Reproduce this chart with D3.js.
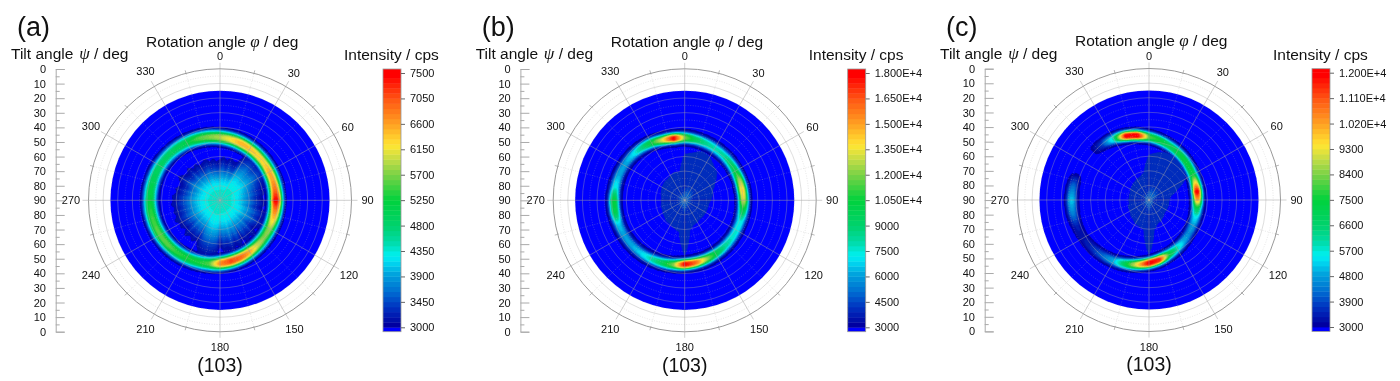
<!DOCTYPE html>
<html>
<head>
<meta charset="utf-8">
<script src="https://cdn.jsdelivr.net/npm/d3@7"></script>
<style>
html, body { margin: 0; padding: 0; background: #fff; }
svg { display: block; filter: blur(0.4px); }
text { font-family: "Liberation Sans", Arial, sans-serif; fill: #111; }
</style>
</head>
<body>
<div id="chart"></div>
<script>
var width = 1400;
var height = 381;

var panelNames = ["(a)", "(b)", "(c)"];
var panelX = [0, 464.7, 929];
var panelY = [0, 0, -0.3];

// color bar ranges
var maxA = 7500, maxB = 18000, maxC = 12000;
var minCps = 3000;
var floorCps = 2900; // below the scale, plain blue

var ticksA = [3000, 3450, 3900, 4350, 4800, 5250, 5700, 6150, 6600, 7050, 7500];
var ticksB = [3000, 4500, 6000, 7500, 9000, 10500, 12000, 13500, 15000, 16500, 18000];
var ticksC = [3000, 3900, 4800, 5700, 6600, 7500, 8400, 9300, 10200, 11100, 12000];
var labelsA = ["3000", "3450", "3900", "4350", "4800", "5250", "5700", "6150", "6600", "7050", "7500"];
var labelsB = ["3000", "4500", "6000", "7500", "9000", "1.050E+4", "1.200E+4", "1.350E+4", "1.500E+4", "1.650E+4", "1.800E+4"];
var labelsC = ["3000", "3900", "4800", "5700", "6600", "7500", "8400", "9300", "1.020E+4", "1.110E+4", "1.200E+4"];

// ring: tilt of the ridge and its intensity, every 10 deg of rotation from 0
var ridgeTiltA = [46.9, 47.7, 48.5, 49.3, 50, 50.6, 51.1, 51.4, 51.6, 51.7, 51.6, 51.4, 51.1, 50.6, 50, 49.3, 48.5, 47.7, 46.9, 46.1, 45.3, 44.5, 43.8, 43.2, 42.7, 42.4, 42.2, 42.1, 42.2, 42.4, 42.7, 43.2, 43.8, 44.5, 45.3, 46.1];
var ridgeTiltB = [47.2, 47.8, 48.4, 49, 49.4, 49.7, 50, 50, 50, 49.8, 49.6, 49.4, 49.1, 48.7, 48.2, 47.7, 47.2, 46.7, 46.2, 45.4, 44.6, 43.8, 43.1, 42.6, 42.2, 41.9, 41.7, 41.6, 41.7, 41.9, 42.3, 42.8, 43.6, 44.7, 46.2, 47];
var ridgeTiltC = [46.9, 48.6, 50.3, 51.8, 53.2, 54.5, 55.5, 56.2, 56.7, 56.8, 56.7, 56.2, 55.5, 54.5, 53.2, 51.8, 50.3, 48.6, 46.9, 45.2, 43.5, 41.9, 40.5, 39.3, 38.3, 37.6, 37.1, 37, 37.1, 37.6, 38.3, 39.3, 40.5, 41.9, 43.5, 45.2];

var ridgeCpsA = [5900, 6200, 6500, 6400, 6300, 6300, 6500, 6600, 6900, 7500, 6800, 6300, 5800, 5700, 6000, 6500, 6900, 7100, 6700, 5500, 5300, 5300, 5400, 5600, 5600, 5500, 5400, 5200, 5100, 5000, 4900, 4900, 5000, 5100, 5500, 5700];
var ridgeCpsB = [12000, 9500, 8500, 8000, 8200, 9000, 10000, 12500, 14000, 13000, 10000, 7500, 7500, 7800, 8500, 10000, 12500, 16000, 18000, 12000, 9500, 8000, 6800, 6200, 6000, 6700, 10000, 10500, 7500, 6300, 6000, 6800, 8500, 10500, 13500, 18000];
var ridgeCpsC = [8000, 7500, 7000, 7200, 7500, 7500, 7500, 9500, 12000, 10000, 7000, 5500, 4800, 4600, 5000, 6000, 7500, 11500, 12000, 9500, 7200, 5000, 4200, 3600, 3300, 3400, 4500, 5200, 4300, 2950, 2900, 2950, 3800, 6000, 12000, 12000];

// tilt where the central patch ends. (a) is read every 5 deg of rotation, (b) and (c) every 10
var patchTiltA = [62, 60, 62.7, 60, 62, 61.4, 54, 52, 50, 52, 52, 50, 52, 56, 57.3, 60, 58.6, 61.4, 60, 58.6, 61.4, 58.6, 55.9, 58.6, 54.5, 57.3, 60, 55.9, 58.6, 55.9, 60, 54.5, 57.3, 53.1, 55.9, 54.5, 58.6, 51.8, 50, 49.7, 50.4, 53.1, 58.6, 55.9, 58.6, 55.9, 60, 57.3, 58.6, 55.9, 58.6, 57.3, 58.6, 56.6, 57.9, 57.3, 60, 58.6, 61.4, 60, 57.3, 60, 61.4, 58.6, 62, 60, 62.7, 61.4, 60, 62.7, 61.4, 63.4];
var patchTiltB = [58.5, 57.1, 54.4, 55.8, 59.2, 61.3, 66, 69.5, 70.8, 72.2, 73.6, 73.6, 73.6, 73.6, 73.6, 72.9, 72.2, 69.5, 52.4, 68.1, 69.5, 70.8, 70.8, 72.2, 72.9, 73.6, 73.6, 74.2, 73.6, 72.9, 72.2, 71.5, 71.5, 70.8, 69.5, 70.8];
var patchTiltC = [59.2, 57.1, 55.8, 55.8, 57.1, 58.5, 61.3, 69.5, 74.9, 76.3, 76.3, 76.3, 76.3, 76.3, 74.9, 73.6, 72.9, 69.5, 52.4, 69.5, 70.8, 71.5, 72.9, 73.6, 74.9, 74.9, 76.3, 76.3, 76.3, 76.3, 75.6, 74.9, 74.2, 73.6, 72.9, 70.8];

// widths and the patch levels
var ridgeWidths = [3, 2.3, 2.3];
var patchEdge = [2950, 4000, 3600];
var patchPeak = [4400, 5000, 4200];
var patchCore = [0.75, 0.22, 0.22];

var tiltTicks = d3.range(0, 181, 10);
var tiltMinorTicks = d3.range(5, 180, 10);
var ringTilts = [10, 20, 30, 40, 50, 60, 70, 80];
var ringTiltsDotted = [5, 15, 25, 35, 45, 55, 65, 75, 85];
var rotationLabels = [0, 30, 60, 90, 120, 150, 180, 210, 240, 270, 300, 330];
var rotationMinor = [15, 45, 75, 105, 135, 165, 195, 225, 255, 285, 315, 345];

var rampStops = [0, 0.07, 0.134, 0.2, 0.25, 0.278, 0.33, 0.395, 0.5, 0.6, 0.66, 0.72, 0.82, 0.9, 1];
var rampColors = ["#0000a0", "#0032c0", "#006ed2", "#00a0dc", "#00d7f0", "#00f0f0", "#00dcaa", "#00d26e", "#00d23c", "#78d246", "#bedc46", "#ffe632", "#ff9620", "#ff5a14", "#ff0000"];
var bandCount = 50;

var cx = 220, cy = 200.3;
var outerR = 131.5;
var rScale = d3.scaleLinear().domain([90, 0]).range([0, outerR]);
var angle = d3.scaleLinear().domain([0, 360]).range([0, 2 * Math.PI]);
var ramp = d3.scaleLinear().domain(rampStops).range(rampColors);
var tiltAxisScale = d3.scaleLinear().domain([0, 180]).range([69, 331.7]);

function lookup(arr, phi) {
    var p = (phi % 360) / 360 * arr.length;
    var i = Math.floor(p) % arr.length;
    var j = (i + 1) % arr.length;
    return arr[i] + (arr[j] - arr[i]) * (p - Math.floor(p));
}

function drawField(g, n, ridgeTilt, ridgeCps, patchTilt, maxCps) {
    var band = d3.scaleQuantize().domain([minCps, maxCps]).range(d3.range(bandCount));
    var paths = d3.range(bandCount).map(function () { return d3.path(); });
    var arc = d3.arc();
    var phiStep = 1, tiltStep = 0.4;

    d3.range(0, 360, phiStep).forEach(function (phi) {
        var mid = phi + phiStep / 2;
        var rt = lookup(ridgeTilt, mid);
        var rc = lookup(ridgeCps, mid);
        var edge = 90 - lookup(patchTilt, mid);
        d3.range(15, 90, tiltStep).forEach(function (tilt) {
            var t = tilt + tiltStep / 2;
            var d = (t - rt) / ridgeWidths[n];
            var v = floorCps + (rc - floorCps) * Math.exp(-Math.pow(d * d / 2, 1.25));
            var fromCentre = 90 - t;
            if (fromCentre < edge) {
                var q = fromCentre / (edge * patchCore[n]);
                v = Math.max(v, patchEdge[n] + (patchPeak[n] - patchEdge[n]) * Math.exp(-q * q * q));
            }
            if (v < minCps) return;
            arc.context(paths[band(v)])({
                innerRadius: rScale(Math.min(90, tilt + tiltStep)),
                outerRadius: rScale(tilt),
                startAngle: angle(phi),
                endAngle: angle(phi + phiStep)
            });
        });
    });

    g.append("circle").attr("r", rScale(15)).attr("fill", "#0000ff");
    g.selectAll("path.band")
        .data(paths)
        .enter()
        .append("path")
        .attr("class", "band")
        .attr("d", function (d) { return d.toString(); })
        .attr("fill", function (d, i) { return ramp(i / (bandCount - 1)); })
        .attr("stroke", function (d, i) { return ramp(i / (bandCount - 1)); })
        .attr("stroke-width", 0.5);
}

function drawGrid(g) {
    g.selectAll("circle.solid").data(ringTilts).enter().append("circle")
        .attr("class", "solid")
        .attr("r", function (d) { return rScale(d); })
        .attr("fill", "none").attr("stroke", "#a8a8a8").attr("stroke-width", 0.7).attr("stroke-opacity", 0.55);
    g.selectAll("circle.dotted").data(ringTiltsDotted).enter().append("circle")
        .attr("class", "dotted")
        .attr("r", function (d) { return rScale(d); })
        .attr("fill", "none").attr("stroke", "#b0b0b0").attr("stroke-width", 0.6).attr("stroke-opacity", 0.5).attr("stroke-dasharray", "1 1.5");
    g.append("circle").attr("r", outerR)
        .attr("fill", "none").attr("stroke", "#999").attr("stroke-width", 1);

    function sx(phi, r) { return r * Math.sin(angle(phi)); }
    function sy(phi, r) { return -r * Math.cos(angle(phi)); }

    g.selectAll("line.major").data(rotationLabels).enter().append("line")
        .attr("class", "major")
        .attr("x1", 0).attr("y1", 0)
        .attr("x2", function (d) { return sx(d, outerR + 6); })
        .attr("y2", function (d) { return sy(d, outerR + 6); })
        .attr("stroke", "#a0a0a0").attr("stroke-width", 0.7).attr("stroke-opacity", 0.7);
    g.selectAll("line.minor").data(rotationMinor).enter().append("line")
        .attr("class", "minor")
        .attr("x1", 0).attr("y1", 0)
        .attr("x2", function (d) { return sx(d, outerR); })
        .attr("y2", function (d) { return sy(d, outerR); })
        .attr("stroke", "#b0b0b0").attr("stroke-width", 0.6).attr("stroke-opacity", 0.5).attr("stroke-dasharray", "1 1.5");
    g.selectAll("line.mtick").data(rotationMinor).enter().append("line")
        .attr("class", "mtick")
        .attr("x1", function (d) { return sx(d, outerR - 1); })
        .attr("y1", function (d) { return sy(d, outerR - 1); })
        .attr("x2", function (d) { return sx(d, outerR + 3); })
        .attr("y2", function (d) { return sy(d, outerR + 3); })
        .attr("stroke", "#999").attr("stroke-width", 0.7);

    g.selectAll("text.rot").data(rotationLabels).enter().append("text")
        .attr("class", "rot")
        .attr("x", function (d) { return sx(d, 144.5 + 1.5 * String(d).length); })
        .attr("y", function (d) { return sy(d, 144.5 + 1.5 * String(d).length) + 4 + (d === 0 ? 2 : 0) + (d === 180 ? -2 : 0); })
        .attr("text-anchor", "middle")
        .attr("font-size", 11)
        .text(function (d) { return d; });
}

function drawTiltAxis(g) {
    var major = d3.axisRight(tiltAxisScale).tickValues(tiltTicks).tickSize(9).tickFormat("");
    var minor = d3.axisRight(tiltAxisScale).tickValues(tiltMinorTicks).tickSize(4).tickFormat("");
    var labels = d3.axisLeft(tiltAxisScale).tickValues(tiltTicks).tickSize(0).tickPadding(0)
        .tickFormat(function (d) { return d <= 90 ? d : 180 - d; });

    var a = g.append("g").attr("transform", "translate(55.7,0)").call(major);
    var b = g.append("g").attr("transform", "translate(55.7,0)").call(minor);
    var c = g.append("g").attr("transform", "translate(46,0)").call(labels);
    c.select(".domain").remove();
    b.select(".domain").remove();
    a.selectAll(".domain,line").attr("stroke", "#aaa");
    b.selectAll("line").attr("stroke", "#aaa");
    c.selectAll("text").attr("font-size", 11).attr("font-family", null);
}

function drawColorBar(g, maxCps, ticks, labels) {
    var y = d3.scaleLinear().domain([minCps, maxCps]).range([327.3, 73]);
    var step = (maxCps - minCps) / bandCount;
    var x0 = 383, w = 18;

    g.append("rect").attr("x", x0).attr("y", y(minCps)).attr("width", w).attr("height", 4.4).attr("fill", "#0000ff");
    g.append("rect").attr("x", x0).attr("y", 69).attr("width", w).attr("height", 4.2).attr("fill", "#ff0000");
    g.selectAll("rect.band")
        .data(d3.range(bandCount))
        .enter()
        .append("rect")
        .attr("class", "band")
        .attr("x", x0)
        .attr("y", function (d) { return y(minCps + (d + 1) * step); })
        .attr("width", w)
        .attr("height", function (d) { return y(minCps + d * step) - y(minCps + (d + 1) * step) + 0.4; })
        .attr("fill", function (d) { return ramp(d / (bandCount - 1)); });
    g.append("rect").attr("x", x0).attr("y", 69).attr("width", w).attr("height", 262.7)
        .attr("fill", "none").attr("stroke", "#999").attr("stroke-width", 0.8);

    var axis = d3.axisRight(y).tickValues(ticks).tickSize(4).tickPadding(5)
        .tickFormat(function (d, i) { return labels[i]; });
    var ag = g.append("g").attr("transform", "translate(" + (x0 + w) + ",0)").call(axis);
    ag.select(".domain").remove();
    ag.selectAll("line").attr("stroke", "#666");
    ag.selectAll("text").attr("font-size", 11).attr("font-family", null);
}

function drawTitles(g, name) {
    g.append("text").attr("x", 17).attr("y", 36).attr("font-size", 27).text(name);

    function title(x, y, before, greek, after, gap) {
        var t = g.append("text").attr("x", x).attr("y", y).attr("font-size", 15.5);
        t.append("tspan").text(before);
        t.append("tspan").attr("dx", gap).attr("font-family", "'Liberation Serif', serif").attr("font-style", "italic").attr("font-size", 17).text(greek);
        t.append("tspan").text(after);
    }
    title(11, 59, "Tilt angle\u00a0", "\u03c8", " / deg", 1.5);
    title(146, 46.8, "Rotation angle\u00a0", "\u03c6", " / deg", 0);
    g.append("text").attr("x", 344).attr("y", 60).attr("font-size", 15.5).text("Intensity / cps");
    g.append("text").attr("x", cx).attr("y", 371.5).attr("text-anchor", "middle")
        .attr("font-size", 19.5).text("(103)");
}

var loadChart = function () {
    var svg = d3.select("#chart").append("svg").attr("width", width).attr("height", height);

    var ridgeTilts = [ridgeTiltA, ridgeTiltB, ridgeTiltC];
    var ridgeCps = [ridgeCpsA, ridgeCpsB, ridgeCpsC];
    var patchTilts = [patchTiltA, patchTiltB, patchTiltC];
    var maxes = [maxA, maxB, maxC];
    var ticks = [ticksA, ticksB, ticksC];
    var labels = [labelsA, labelsB, labelsC];

    panelNames.forEach(function (name, n) {
        var panel = svg.append("g").attr("transform", "translate(" + panelX[n] + "," + panelY[n] + ")");
        var polar = panel.append("g").attr("transform", "translate(" + cx + "," + cy + ")");
        drawField(polar, n, ridgeTilts[n], ridgeCps[n], patchTilts[n], maxes[n]);
        drawGrid(polar);
        drawTiltAxis(panel);
        drawColorBar(panel, maxes[n], ticks[n], labels[n]);
        drawTitles(panel, name);
    });
};
window.onload = loadChart;
</script>
</body>
</html>
